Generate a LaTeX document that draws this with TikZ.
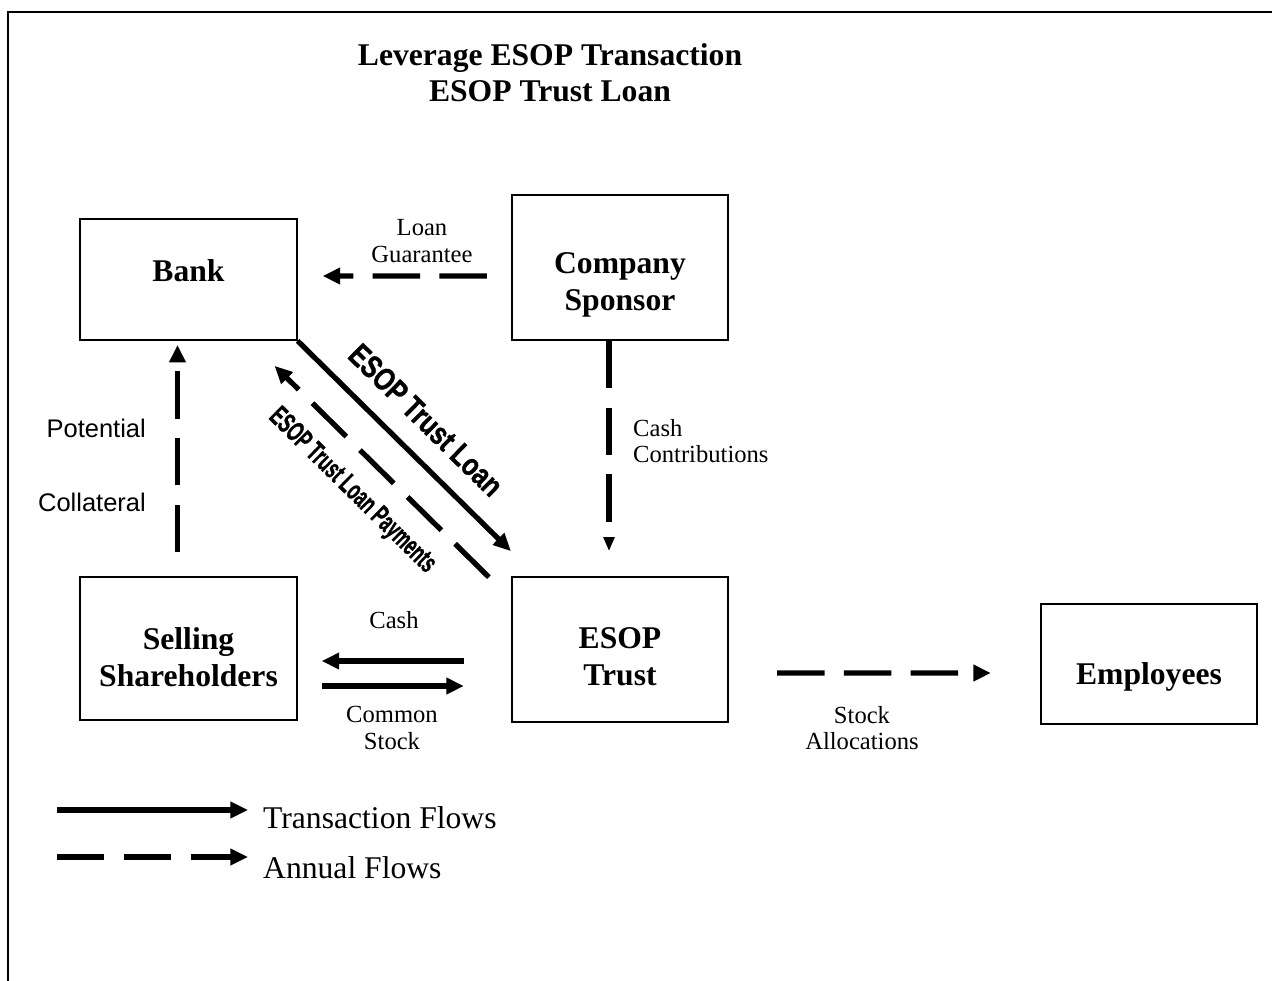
\documentclass[tikz,border=0pt]{standalone}
\usepackage{fontspec}
\setmainfont{Liberation Serif}
\setsansfont{Liberation Sans}
\newfontfamily\heavysans{Liberation Sans Bold}[FakeBold=1.2]
\usepackage{tikz}
\usetikzlibrary{calc, shapes, arrows.meta}
\usetikzlibrary{positioning}
\tikzstyle{block} = [draw, rectangle, line width=1pt, inner sep=0pt,
    minimum width=4.33cm, minimum height=2.9cm]
\tikzstyle{boxtext} = [align=center, font=\fontsize{18}{21}\selectfont\bfseries]
\tikzstyle{flow} = [line width=3pt, -{Triangle[length=10pt, width=9pt]}]
\tikzstyle{annual} = [flow, dash pattern=on 27pt off 11pt]
\tikzstyle{note} = [align=center, font=\fontsize{14}{15}\selectfont]
\tikzstyle{sansnote} = [font=\sffamily\fontsize{14.5}{16}\selectfont]

\begin{document}
\begin{tikzpicture}[x=0.02cm, y=-0.02cm]
            \useasboundingbox (0,0) rectangle (1272,981);
            \draw[line width=1pt] (1272,12) -- (8,12) -- (8,981);

            \node[align=center, font=\fontsize{18}{20.5}\selectfont\bfseries, name=title] at (550,73) {Leverage ESOP Transaction\\ESOP Trust Loan};

            \node[block, minimum height=2.42cm, name=bank] at (188.5,279.5) {};
            \node[block, name=sponsor] at (620,267.5) {};
            \node[block, minimum height=2.86cm, name=sellers] at (188.5,648.5) {};
            \node[block, name=trust] at (620,649.5) {};
            \node[block, minimum height=2.4cm, name=staff] at (1149,664) {};

            \node[boxtext, name=banktext] at (188.5,270.5) {Bank};
            \node[boxtext, name=sponsortext] at (620,284.5) {Company\\Sponsor};
            \node[boxtext, name=sellerstext] at (188.5,657) {Selling\\Shareholders};
            \node[boxtext, name=trusttext] at (620,657) {ESOP\\Trust};
            \node[boxtext, name=stafftext] at (1149,677) {Employees};

            \draw[annual] ($(sponsor.west)+(-24,8.5)$) -- ($(bank.east)+(25,-3.5)$);
            \draw[annual] ($(sellers.north)+(-11,-24)$) -- ($(bank.south)+(-11,4)$);
            \draw[flow] (bank.south east) -- ($(trust.north west)+(0,-25)$);
            \draw[annual] ($(trust.north west)+(-22,1)$) -- ($(bank.south east)+(-23,25)$);
            \draw[annual, -{Triangle[length=8pt, width=6pt]}] ($(sponsor.south)+(-11,0)$) -- ($(trust.north)+(-11,-25)$);
            \draw[flow] ($(trust.west)+(-47,11.5)$) -- ($(sellers.east)+(24,12.5)$);
            \draw[flow] ($(sellers.east)+(24,37.5)$) -- ($(trust.west)+(-47,36.5)$);
            \draw[annual] ($(trust.east)+(48,23.5)$) -- ($(staff.west)+(-49,9)$);

            \node[note, name=guarantee] at (422,241) {Loan\\Guarantee};
            \node[sansnote, anchor=east, name=potential] at (152,428) {Potential};
            \node[sansnote, anchor=east, name=collateral] at (152,502) {Collateral};
            \node[note, align=left, anchor=west, name=contrib] at (627,441) {Cash\\Contributions};
            \node[note, name=cash] at (394,620) {Cash};
            \node[note, name=common] at (392,728) {Common\\Stock};
            \node[note, name=alloc] at (862,728) {Stock\\Allocations};
            \node[rotate=-44.5, xscale=0.78, font=\heavysans\fontsize{18}{20}\selectfont, name=loanlbl] at (426,420) {ESOP Trust Loan};
            \node[rotate=-44.5, xscale=0.6, font=\heavysans\fontsize{16}{18}\selectfont, name=paylbl] at (352,491) {ESOP Trust Loan Payments};

            % legend
            \coordinate (solidA) at (57,810);
            \coordinate (solidB) at (248,810);
            \coordinate (dashA) at (57,857);
            \coordinate (dashB) at (248,857);
            \draw[flow] (solidA) -- (solidB);
            \draw[annual] (dashA) -- (dashB);
            \node[anchor=west, font=\fontsize{18}{20}\selectfont, name=keysolid] at (257,818) {Transaction Flows};
            \node[anchor=west, font=\fontsize{18}{20}\selectfont, name=keydash] at (257,868) {Annual Flows};
        \end{tikzpicture}
\end{document}
